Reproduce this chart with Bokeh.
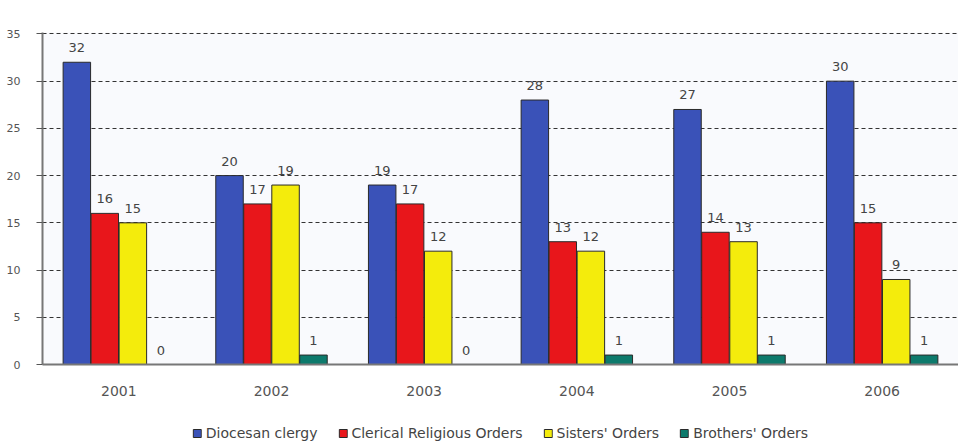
from bokeh.plotting import figure
from bokeh.models import ColumnDataSource, Range1d, FactorRange, Legend, LegendItem, LabelSet
from bokeh.layouts import column
from bokeh.transform import dodge
from bokeh.core.properties import value
from bokeh.embed import file_html
from bokeh.resources import INLINE

years = ["2001", "2002", "2003", "2004", "2005", "2006"]
diocesan = [32, 20, 19, 28, 27, 30]
clerical = [16, 17, 17, 13, 14, 15]
sisters = [15, 19, 12, 12, 13, 9]
brothers = [0, 1, 0, 1, 1, 1]

series = [
    ("Diocesan clergy", diocesan, "#3a52b8", -0.275),
    ("Clerical Religious Orders", clerical, "#e8161b", -0.092),
    ("Sisters' Orders", sisters, "#f4ec0c", 0.092),
    ("Brothers' Orders", brothers, "#0d7a6c", 0.275),
]

FONT = "DejaVu Sans"

p = figure(width=958, height=410, x_range=FactorRange(*years), y_range=Range1d(0, 35.15),
           output_backend="svg", toolbar_location=None,
           min_border_left=42, min_border_right=0, min_border_top=32, min_border_bottom=46)
p.background_fill_color = "#f9fafd"
p.border_fill_color = "#ffffff"
p.outline_line_color = None

for name, vals, color, off in series:
    src = ColumnDataSource(dict(x=years, y=vals, lab=[str(v) for v in vals]))
    p.vbar(x=dodge("x", off, range=p.x_range), top="y", width=0.18, source=src,
           fill_color=color, line_color="#2a2a2a", line_width=1)
    labels = LabelSet(x=dodge("x", off, range=p.x_range), y="y", text="lab", source=src,
                      text_align="center", text_baseline="bottom", y_offset=10,
                      text_font=value(FONT), text_font_size="13px", text_color="#444444")
    p.add_layout(labels)

p.xgrid.grid_line_color = None
p.ygrid.grid_line_color = "#333333"
p.ygrid.grid_line_dash = "4 3"
p.ygrid.grid_line_width = 1
p.yaxis.ticker = [0, 5, 10, 15, 20, 25, 30, 35]
p.yaxis.axis_line_color = "#777777"
p.yaxis.axis_line_width = 2
p.yaxis.major_tick_line_color = "#555555"
p.yaxis.major_tick_out = 6
p.yaxis.major_tick_in = 0
p.yaxis.minor_tick_line_color = None
p.yaxis.major_label_text_font = FONT
p.yaxis.major_label_text_font_size = "11px"
p.yaxis.major_label_text_color = "#555555"
p.yaxis.major_label_standoff = 16

p.xaxis.axis_line_color = "#777777"
p.xaxis.axis_line_width = 2
p.xaxis.major_tick_line_color = None
p.xaxis.major_label_text_font = FONT
p.xaxis.major_label_text_font_size = "14px"
p.xaxis.major_label_text_color = "#555555"
p.xaxis.major_label_standoff = 15
p.x_range.range_padding = 0

# legend strip (zero-height swatch bars placed far outside the strip's range)
pl = figure(width=958, height=35, x_range=Range1d(0, 1), y_range=Range1d(0, 1),
            x_axis_type=None, y_axis_type=None, output_backend="svg", toolbar_location=None,
            min_border_left=0, min_border_right=0, min_border_top=0, min_border_bottom=0)
pl.outline_line_color = None
pl.xgrid.grid_line_color = None
pl.ygrid.grid_line_color = None
pl.background_fill_color = "#ffffff"
pl.border_fill_color = "#ffffff"
items = []
for name, vals, color, off in series:
    r = pl.vbar(x=[50], top=[-50], bottom=[-50], width=0.1, fill_color=color,
                line_color="#2a2a2a", line_width=1)
    items.append(LegendItem(label=name, renderers=[r]))
legend = Legend(items=items, orientation="horizontal", location="bottom_center",
                label_text_font=FONT, label_text_font_size="14px", label_text_color="#444444",
                glyph_width=10, glyph_height=10, label_standoff=4, spacing=20,
                padding=2, margin=4, border_line_color=None, background_fill_alpha=0)
pl.add_layout(legend)

layout = column(p, pl, spacing=0)
open("out.html", "w").write(file_html(layout, INLINE))
